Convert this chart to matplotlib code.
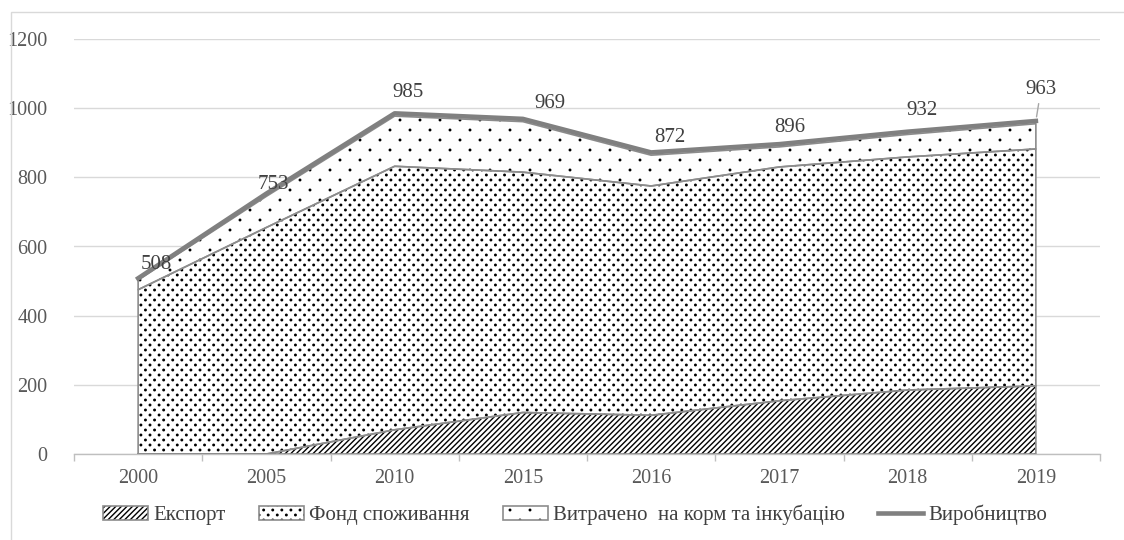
import matplotlib
matplotlib.use("Agg")
import matplotlib.pyplot as plt
import matplotlib.hatch as mhatch
import numpy as np
from matplotlib.path import Path
from matplotlib.patches import Patch, Rectangle
from matplotlib.lines import Line2D
from matplotlib.legend_handler import HandlerTuple

years = ["2000", "2005", "2010", "2015", "2016", "2017", "2018", "2019"]
export = [0, 0, 70, 120, 112, 154, 185, 197]
consumption = [475, 655, 762, 695, 663, 676, 674, 685]
feed = [28, 90, 145, 146, 89, 58, 65, 73]
production = [508, 753, 985, 969, 872, 896, 932, 963]

series_names = ["Експорт", "Фонд споживання", "Витрачено  на корм та інкубацію", "Виробництво"]

# ---- staggered dot textures closer to the Excel pattern fills ----
DOT_LATTICES = {2: (5, 10), 3: (11, 20)}   # dots per hatch tile: (columns, rows)
DOT_RADIUS = 0.0075


class LatticeDots(mhatch.HatchPatternBase):
    def __init__(self, hatch, density):
        spec = DOT_LATTICES.get(hatch.count('.'))
        circ = Path.unit_circle()
        self.cv, self.cc = circ.vertices, circ.codes
        pts = []
        if spec:
            cols, rows = spec
            for r in range(rows + 1):
                shift = 0.5 * (r % 2)
                for k in range(-1, cols + 1):
                    px = (k + shift) / cols
                    if -0.02 <= px <= 1.02:
                        pts.append((px, r / rows))
        self.pts = pts
        self.num_vertices = len(pts) * len(self.cv)

    def set_vertices_and_codes(self, vertices, codes):
        n = len(self.cv)
        for i, (px, py) in enumerate(self.pts):
            vertices[i * n:(i + 1) * n] = self.cv * DOT_RADIUS + (px, py)
            codes[i * n:(i + 1) * n] = self.cc


try:
    mhatch._hatch_types = [LatticeDots if t is mhatch.SmallFilledCircles else t
                           for t in mhatch._hatch_types]
except Exception:
    pass

plt.rcParams['font.family'] = ['Liberation Serif', 'DejaVu Serif']
plt.rcParams['hatch.linewidth'] = 1.0

W, H = 1124, 540
fig = plt.figure(figsize=(W / 100, H / 100), dpi=100)
ax = fig.add_axes([74 / W, 1 - 454 / H, (1100 - 74) / W, (454 - 39) / H])

x = np.arange(len(years))
e = np.array(export, dtype=float)
c = np.array(consumption, dtype=float)
f = np.array(feed, dtype=float)
p = np.array(production, dtype=float)

edge_gray = "#8c8c8c"
hatches = ["//////", "...", ".."]
layers = [
    (np.zeros_like(e), e),
    (e, e + c),
    (e + c, e + c + f),
]
for (lo, hi), hatch in zip(layers, hatches):
    ax.fill_between(x, lo, hi, facecolor="white", edgecolor="black", hatch=hatch,
                    linewidth=0, zorder=2)
for lo, hi in layers:
    ax.fill_between(x, lo, hi, facecolor="none", edgecolor=edge_gray,
                    linewidth=1.2, zorder=3)

ax.plot(x, p, color="#808080", linewidth=3.3, solid_joinstyle="round", zorder=4)

# data labels (offsets in pixels)
label_offsets = [(18, 14), (7, 9), (13, 21), (27, 15), (19, 15), (10, 17), (14, 21), (5, 31)]
for i, (v, (dx, dy)) in enumerate(zip(production, label_offsets)):
    kw = {}
    if i == len(production) - 1:
        kw = dict(arrowprops=dict(arrowstyle="-", color="#a6a6a6", lw=1.0,
                                  shrinkA=1, shrinkB=3))
    ax.annotate(str(v), xy=(x[i], v), xytext=(dx, dy), textcoords="offset pixels",
                ha="center", va="center", fontsize=15, color="#404040", zorder=6, **kw)

ax.set_xlim(-0.5, len(years) - 0.5)
ax.set_ylim(0, 1200)
ax.set_yticks(np.arange(0, 1201, 200))
ax.set_xticks(x)
ax.set_xticklabels(years)
ax.set_xticks(np.arange(-0.5, len(years), 1.0), minor=True)
ax.tick_params(axis="x", which="major", length=0, pad=11, labelsize=14.5, labelcolor="#595959")
ax.tick_params(axis="x", which="minor", length=5, color="#bfbfbf", width=1)
ax.tick_params(axis="y", length=0, pad=19, labelsize=14.5, labelcolor="#595959")
ax.grid(axis="y", color="#d9d9d9", linewidth=1.0, zorder=0)
ax.set_axisbelow(True)
for s in ["top", "right", "left"]:
    ax.spines[s].set_visible(False)
ax.spines["bottom"].set_color("#bfbfbf")
ax.spines["bottom"].set_linewidth(1.0)

# chart border
fig.add_artist(Rectangle((11 / W, -0.2), 1.5, 1 - 12 / H + 0.2, transform=fig.transFigure,
                         facecolor="none", edgecolor="#d9d9d9", linewidth=1.0))

handles = []
for hatch in hatches:
    h1 = Patch(facecolor="white", edgecolor="black", hatch=hatch, linewidth=0)
    h2 = Patch(facecolor="none", edgecolor=edge_gray, linewidth=1.2)
    handles.append((h1, h2))
handles.append(Line2D([], [], color="#808080", linewidth=3.3))

leg = fig.legend(handles, series_names, loc="center", bbox_to_anchor=(575 / W, 1 - 515 / H),
                 ncol=4, frameon=False, fontsize=15, handlelength=2.16, handleheight=0.6,
                 handletextpad=0.25, columnspacing=1.6,
                 handler_map={tuple: HandlerTuple(ndivide=1, pad=0)})
for t in leg.get_texts():
    t.set_color("#404040")

fig.savefig("out.png", dpi=100)
